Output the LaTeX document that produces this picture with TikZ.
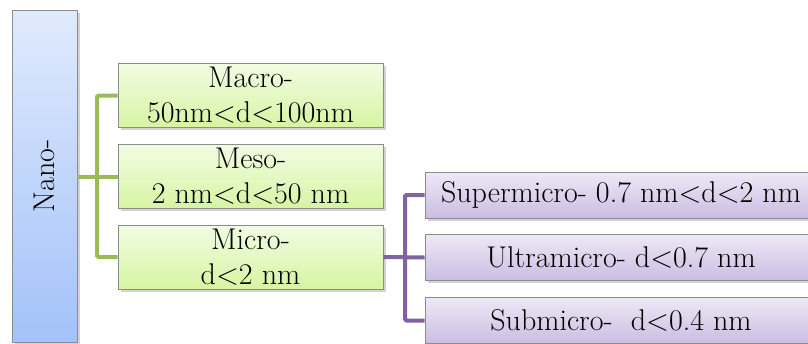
\documentclass[tikz,border=0pt]{standalone}
\usetikzlibrary{shadows}
\definecolor{gline}{HTML}{9BBB59}
\definecolor{pline}{HTML}{8064A2}
\definecolor{bordergray}{HTML}{8C8C8C}
\definecolor{ntop}{HTML}{E0EAFD}
\definecolor{nbot}{HTML}{A3C2F9}
\definecolor{gtop}{HTML}{F2FCE3}
\definecolor{gbot}{HTML}{D6F5A2}
\definecolor{ptop}{HTML}{EEE8F6}
\definecolor{pbot}{HTML}{CBBDE2}
\begin{document}
\begin{tikzpicture}[x=1pt,y=-1pt,
  base/.style={draw=bordergray, line width=0.8pt, inner sep=0pt, align=center,
    font=\fontsize{30}{35}\selectfont,
    drop shadow={opacity=0.35, shadow xshift=2.5pt, shadow yshift=-2.5pt}},
  nanobox/.style={base, top color=ntop, bottom color=nbot,
    minimum width=65pt, minimum height=332pt},
  gbox/.style={base, top color=gtop, bottom color=gbot,
    minimum width=265pt, minimum height=64pt},
  pbox/.style={base, top color=ptop, bottom color=pbot,
    minimum width=392pt, minimum height=46pt},
  glink/.style={draw=gline, line width=4pt, rounded corners=1.5pt},
  plink/.style={draw=pline, line width=4pt, rounded corners=1.5pt}]
\useasboundingbox (0,0) rectangle (808,343);
\clip (0,0) rectangle (808,343);
\node[nanobox] (nano) at (44.5,176) {\rotatebox{90}{Nano-}};
\node[gbox] (macro) at (250.5,95.5) {Macro-\\50nm<d<100nm};
\node[gbox] (meso) at (250.5,176.5) {Meso-\\2 nm<d<50 nm};
\node[gbox] (micro) at (250.5,257) {Micro-\\d<2 nm};
\node[pbox] (sup) at (621,195) {Supermicro- 0.7 nm<d<2 nm};
\node[pbox] (ult) at (621,257.5) {Ultramicro- d<0.7 nm};
\node[pbox] (sub) at (621,320.5) {Submicro-\ \ d<0.4 nm};
\coordinate (gx) at (97,0);
\coordinate (px) at (405,0);
\draw[glink] (nano.east |- meso.west) -- (meso.west);
\draw[glink] (macro.west) -- (gx |- macro.west) -- (gx |- micro.west) -- (micro.west);
\draw[plink] (micro.east) -- (ult.west);
\draw[plink] (sup.west) -- (px |- sup.west) -- (px |- sub.west) -- (sub.west);
\end{tikzpicture}
\end{document}
